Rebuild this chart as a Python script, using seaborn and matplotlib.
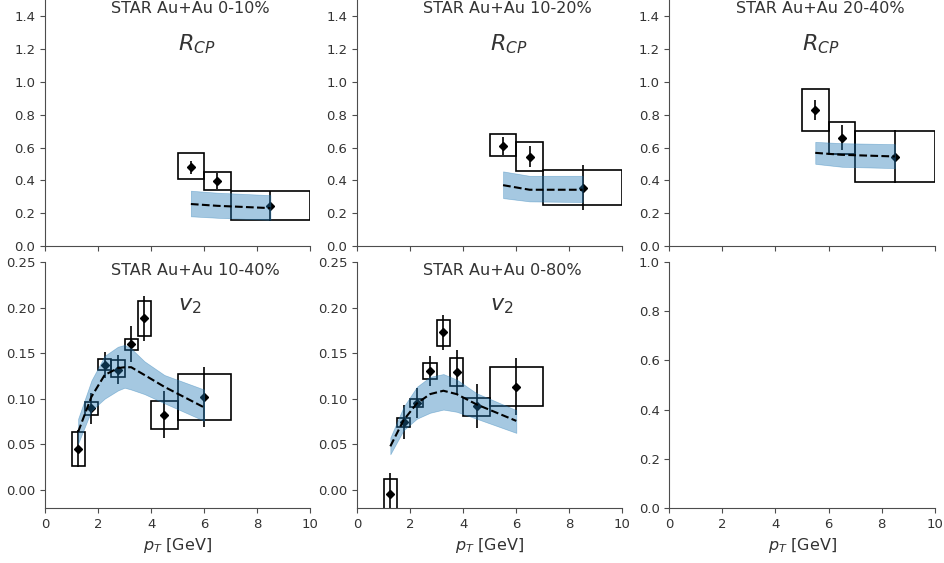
import numpy as np
import matplotlib
matplotlib.use("Agg")
import matplotlib.pyplot as plt
from matplotlib.patches import Rectangle
import seaborn as sns

# ---- R_CP data (pT bins 5-6, 6-7, 7-10 GeV) ----
rcp_pt = [5.5, 6.5, 8.5]
rcp_bin_lo = [5.0, 6.0, 7.0]
rcp_bin_hi = [6.0, 7.0, 10.0]

rcp_010_y = [0.48, 0.395, 0.245]
rcp_010_err = [0.04, 0.05, 0.09]
rcp_010_sys_lo = [0.408, 0.343, 0.158]
rcp_010_sys_hi = [0.566, 0.450, 0.335]

rcp_1020_y = [0.61, 0.545, 0.355]
rcp_1020_err = [0.055, 0.063, 0.137]
rcp_1020_sys_lo = [0.546, 0.455, 0.248]
rcp_1020_sys_hi = [0.683, 0.637, 0.461]

rcp_2040_y = [0.83, 0.66, 0.545]
rcp_2040_err = [0.063, 0.075, 0.16]
rcp_2040_sys_lo = [0.702, 0.560, 0.392]
rcp_2040_sys_hi = [0.960, 0.757, 0.702]

# model bands for R_CP
rcp_model_pt = [5.5, 6.5, 8.5]
rcp_010_mid = [0.256, 0.245, 0.231]
rcp_010_up = [0.337, 0.325, 0.310]
rcp_010_dn = [0.181, 0.172, 0.160]
rcp_1020_mid = [0.371, 0.343, 0.343]
rcp_1020_up = [0.455, 0.428, 0.428]
rcp_1020_dn = [0.292, 0.272, 0.268]
rcp_2040_mid = [0.568, 0.556, 0.546]
rcp_2040_up = [0.635, 0.627, 0.621]
rcp_2040_dn = [0.501, 0.483, 0.475]

# ---- v2 data ----
v2_pt = [1.25, 1.75, 2.25, 2.75, 3.25, 3.75, 4.5, 6.0]
v2_bin_lo = [1.0, 1.5, 2.0, 2.5, 3.0, 3.5, 4.0, 5.0]
v2_bin_hi = [1.5, 2.0, 2.5, 3.0, 3.5, 4.0, 5.0, 7.0]

v2_1040_y = [0.045, 0.0896, 0.137, 0.132, 0.160, 0.188, 0.0823, 0.102]
v2_1040_err = [0.0204, 0.017, 0.0145, 0.016, 0.0195, 0.0245, 0.026, 0.033]
v2_1040_sys_lo = [0.0257, 0.082, 0.132, 0.124, 0.153, 0.169, 0.0665, 0.0767]
v2_1040_sys_hi = [0.0635, 0.096, 0.143, 0.142, 0.166, 0.207, 0.097, 0.127]

v2_080_y = [-0.0044, 0.0742, 0.0948, 0.1304, 0.1727, 0.1293, 0.0922, 0.1131]
v2_080_err = [0.0225, 0.0188, 0.0165, 0.016, 0.019, 0.0243, 0.024, 0.031]
v2_080_sys_lo = [-0.021, 0.069, 0.091, 0.122, 0.1583, 0.114, 0.0812, 0.0922]
v2_080_sys_hi = [0.0117, 0.079, 0.0992, 0.139, 0.1867, 0.1448, 0.101, 0.1345]

# model bands for v2
v2_1040_model_pt = [1.25, 1.75, 2.25, 2.75, 3.0, 3.25, 3.75, 4.5, 6.0]
v2_1040_mid = [0.0635, 0.102, 0.126, 0.1335, 0.1345, 0.1345, 0.126, 0.113, 0.0904]
v2_1040_up = [0.078, 0.120, 0.147, 0.157, 0.159, 0.155, 0.141, 0.126, 0.110]
v2_1040_dn = [0.0507, 0.087, 0.100, 0.109, 0.112, 0.110, 0.105, 0.095, 0.0757]

v2_080_model_pt = [1.25, 1.75, 2.25, 2.75, 3.25, 3.75, 4.5, 6.0]
v2_080_mid = [0.0477, 0.0764, 0.0948, 0.105, 0.1087, 0.105, 0.0937, 0.0756]
v2_080_up = [0.0573, 0.091, 0.113, 0.124, 0.127, 0.121, 0.106, 0.0874]
v2_080_dn = [0.0389, 0.0654, 0.078, 0.0845, 0.088, 0.0856, 0.078, 0.0624]

sns.set_style("ticks", {'axes.edgecolor': '.3', 'text.color': '.2',
                        'xtick.color': '.3', 'ytick.color': '.3'})
plt.rcParams['font.family'] = ['DejaVu Sans']
plt.rcParams['xtick.labelsize'] = 9.5
plt.rcParams['ytick.labelsize'] = 9.5
plt.rcParams['xtick.major.size'] = 3.5
plt.rcParams['ytick.major.size'] = 3.5
plt.rcParams['xtick.labelcolor'] = '.2'
plt.rcParams['ytick.labelcolor'] = '.2'


def draw_panel(ax, pt, y, err, blo, bhi, slo, shi, mpt, mid, up, dn, title, label):
    # systematic boxes
    for x0, x1, s0, s1 in zip(blo, bhi, slo, shi):
        ax.add_patch(Rectangle((x0, s0), x1 - x0, s1 - s0, fill=False,
                               edgecolor='k', lw=1.2))
    ax.errorbar(pt, y, yerr=err, fmt='D', color='k', ms=4, lw=1.2, zorder=2)
    # model band drawn over the points
    ax.fill_between(mpt, dn, up, color='#1f77b4', alpha=0.4, lw=0.5, zorder=3)
    sns.lineplot(x=mpt, y=mid, ax=ax, color='k', linestyle='--', lw=1.5, zorder=4)
    ax.text(0.25, 0.967, title, transform=ax.transAxes, ha='left', va='center',
            fontsize=11.5, color='.2')
    ax.text(0.5, 0.82, label, transform=ax.transAxes, ha='left', va='center',
            fontsize=16, color='.2')


fig, axes = plt.subplots(2, 3, figsize=(9.45, 5.63), dpi=100, sharex=True)
fig.subplots_adjust(left=0.0476, right=0.989, top=1.0, bottom=0.0977,
                    wspace=0.177, hspace=0.065)

draw_panel(axes[0, 0], rcp_pt, rcp_010_y, rcp_010_err, rcp_bin_lo, rcp_bin_hi,
           rcp_010_sys_lo, rcp_010_sys_hi, rcp_model_pt, rcp_010_mid,
           rcp_010_up, rcp_010_dn, 'STAR Au+Au 0-10%', r'$R_{CP}$')
draw_panel(axes[0, 1], rcp_pt, rcp_1020_y, rcp_1020_err, rcp_bin_lo, rcp_bin_hi,
           rcp_1020_sys_lo, rcp_1020_sys_hi, rcp_model_pt, rcp_1020_mid,
           rcp_1020_up, rcp_1020_dn, 'STAR Au+Au 10-20%', r'$R_{CP}$')
draw_panel(axes[0, 2], rcp_pt, rcp_2040_y, rcp_2040_err, rcp_bin_lo, rcp_bin_hi,
           rcp_2040_sys_lo, rcp_2040_sys_hi, rcp_model_pt, rcp_2040_mid,
           rcp_2040_up, rcp_2040_dn, 'STAR Au+Au 20-40%', r'$R_{CP}$')
draw_panel(axes[1, 0], v2_pt, v2_1040_y, v2_1040_err, v2_bin_lo, v2_bin_hi,
           v2_1040_sys_lo, v2_1040_sys_hi, v2_1040_model_pt, v2_1040_mid,
           v2_1040_up, v2_1040_dn, 'STAR Au+Au 10-40%', r'$v_2$')
draw_panel(axes[1, 1], v2_pt, v2_080_y, v2_080_err, v2_bin_lo, v2_bin_hi,
           v2_080_sys_lo, v2_080_sys_hi, v2_080_model_pt, v2_080_mid,
           v2_080_up, v2_080_dn, 'STAR Au+Au 0-80%', r'$v_2$')

for ax in axes[0]:
    ax.set_ylim(0, 1.5)
for ax in axes[1, :2]:
    ax.set_ylim(-0.02, 0.25)
axes[1, 2].set_ylim(0, 1.0)

for ax in axes.flat:
    ax.set_xlim(0, 10)
for ax in axes[1]:
    ax.set_xlabel(r'$p_T$ [GeV]', fontsize=11.5, color='.2')

sns.despine(fig=fig)
fig.savefig("out.png", dpi=100)
